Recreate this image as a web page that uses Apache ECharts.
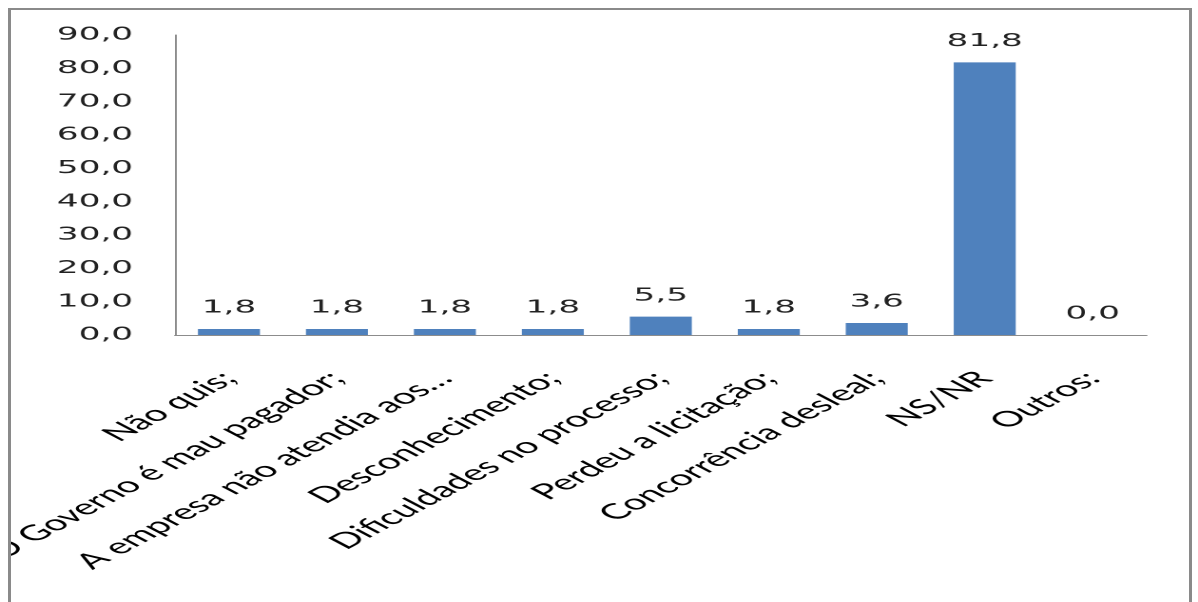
<!DOCTYPE html>
<html>
<head>
<meta charset="utf-8">
<script src="https://cdn.jsdelivr.net/npm/echarts@6/dist/echarts.min.js"></script>
<style>
  html, body { margin: 0; padding: 0; background: #ffffff; }
  #page { position: relative; width: 1198px; height: 602px; overflow: hidden; background: #fff; }
  #frame {
    position: absolute; left: 8px; top: 8px; width: 1184px; height: 700px;
    box-sizing: border-box; border-style: solid; border-color: #8a8a8a;
    border-width: 2px 3px 0 3px; overflow: hidden; background: #fff;
  }
  #chart {
    position: absolute; left: -11px; top: -10px; width: 630px; height: 602px;
    transform: scaleX(1.9016); transform-origin: 0 0;
  }
</style>
</head>
<body>
<div id="page">
  <div id="frame">
    <div id="chart"></div>
  </div>
</div>
<script>
const categories = [
  'Não quis;',
  'O Governo é mau pagador;',
  'A empresa não atendia aos…',
  'Desconhecimento;',
  'Dificuldades no processo;',
  'Perdeu a licitação;',
  'Concorrência desleal;',
  'NS/NR',
  'Outros:'
];
const values = [1.8, 1.8, 1.8, 1.8, 5.5, 1.8, 3.6, 81.8, 0.0];
const yMin = 0;
const yMax = 90;
const yStep = 10;

function fmt(v) { return Number(v).toFixed(1).replace('.', ','); }

const chart = echarts.init(document.getElementById('chart'), null, { renderer: 'canvas', devicePixelRatio: 2 });
chart.setOption({
  animation: false,
  backgroundColor: 'transparent',
  grid: { left: 92, right: 27, top: 35, bottom: 267, containLabel: false, outerBoundsMode: 'none' },
  xAxis: {
    type: 'category',
    data: categories,
    axisLine: { show: true, lineStyle: { color: '#8c8c8c', width: 1 } },
    axisTick: { show: false },
    axisLabel: {
      interval: 0,
      rotate: 45,
      margin: 40,
      color: '#000000',
      fontFamily: 'Lato',
      fontSize: 21.5
    },
    splitLine: { show: false }
  },
  yAxis: {
    type: 'value',
    min: yMin,
    max: yMax,
    interval: yStep,
    axisLine: { show: true, lineStyle: { color: '#8c8c8c', width: 1 } },
    axisTick: { show: false },
    splitLine: { show: false },
    axisLabel: {
      margin: 22,
      color: '#222222',
      fontFamily: 'DejaVu Sans',
      fontSize: 18,
      formatter: fmt
    }
  },
  series: [{
    type: 'bar',
    data: values,
    barWidth: 32.6,
    itemStyle: { color: '#4f81bd' },
    label: {
      show: true,
      position: 'top',
      distance: 12,
      color: '#222222',
      fontFamily: 'DejaVu Sans',
      fontSize: 18,
      formatter: p => fmt(p.value)
    }
  }]
});
</script>
</body>
</html>
